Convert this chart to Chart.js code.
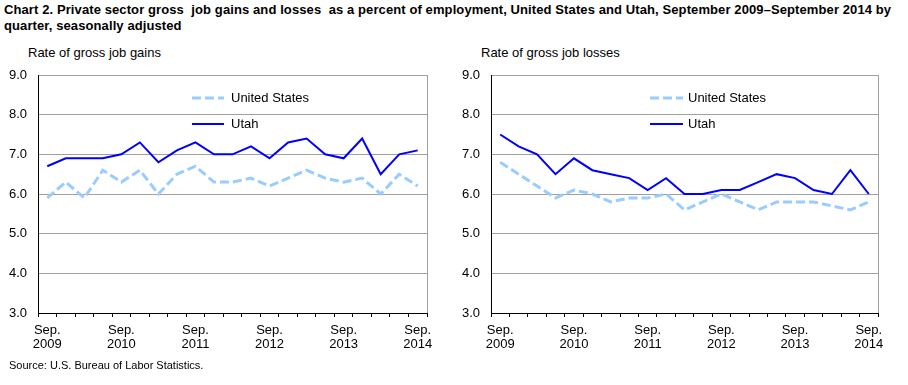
<!DOCTYPE html>
<html>
<head>
<meta charset="utf-8">
<script src="https://cdn.jsdelivr.net/npm/chart.js@4.4.1/dist/chart.umd.min.js"></script>
<style>
    body { margin: 0; background: #fff; font-family: Arial, "Liberation Sans", sans-serif; color: #000; }
    #title { position: absolute; left: 4px; top: 2px; font-size: 13px; font-weight: bold; line-height: 16px; letter-spacing: 0.1px; white-space: pre; }
    .axis-title { position: absolute; top: 45px; font-size: 13px; }
    .panel { position: absolute; top: 40px; width: 454px; height: 320px; }
    #source { position: absolute; left: 9px; top: 359px; font-size: 11px; }
</style>
</head>
<body>
<div id="title">Chart 2. Private sector gross  job gains and losses  as a percent of employment, United States and Utah, September 2009–September 2014 by
quarter, seasonally adjusted</div>
<div class="axis-title" style="left:28px">Rate of gross job gains</div>
<div class="axis-title" style="left:481px">Rate of gross job losses</div>
<div class="panel" style="left:0"><canvas id="gainsChart" width="454" height="320"></canvas></div>
<div class="panel" style="left:454px"><canvas id="lossesChart" width="454" height="320"></canvas></div>
<div id="source">Source: U.S. Bureau of Labor Statistics.</div>

<script>
// Quarters, September 2009 to September 2014
const quarters = [
    'Sep. 2009', 'Dec. 2009', 'Mar. 2010', 'Jun. 2010',
    'Sep. 2010', 'Dec. 2010', 'Mar. 2011', 'Jun. 2011',
    'Sep. 2011', 'Dec. 2011', 'Mar. 2012', 'Jun. 2012',
    'Sep. 2012', 'Dec. 2012', 'Mar. 2013', 'Jun. 2013',
    'Sep. 2013', 'Dec. 2013', 'Mar. 2014', 'Jun. 2014',
    'Sep. 2014'
];
const seriesNames = ['United States', 'Utah'];

// Gross job gains, percent of employment
const gainsUS   = [5.9, 6.3, 5.9, 6.6, 6.3, 6.6, 6.0, 6.5, 6.7, 6.3, 6.3, 6.4, 6.2, 6.4, 6.6, 6.4, 6.3, 6.4, 6.0, 6.5, 6.2];
const gainsUtah = [6.7, 6.9, 6.9, 6.9, 7.0, 7.3, 6.8, 7.1, 7.3, 7.0, 7.0, 7.2, 6.9, 7.3, 7.4, 7.0, 6.9, 7.4, 6.5, 7.0, 7.1];

// Gross job losses, percent of employment
const lossesUS   = [6.8, 6.5, 6.2, 5.9, 6.1, 6.0, 5.8, 5.9, 5.9, 6.0, 5.6, 5.8, 6.0, 5.8, 5.6, 5.8, 5.8, 5.8, 5.7, 5.6, 5.8];
const lossesUtah = [7.5, 7.2, 7.0, 6.5, 6.9, 6.6, 6.5, 6.4, 6.1, 6.4, 6.0, 6.0, 6.1, 6.1, 6.3, 6.5, 6.4, 6.1, 6.0, 6.6, 6.0];

const yTicks = [3, 4, 5, 6, 7, 8, 9];

const RateCharts = {
    font: { family: 'Arial, "Liberation Sans", sans-serif', size: 13 },

    /**
     * Draws the legend inside the plot area and the grey right border
     */
    panelPlugin: {
        id: 'panelDecor',
        afterDraw(chart, args, opts) {
            const ctx = chart.ctx;
            const area = chart.chartArea;

            // Right border of plot area
            ctx.save();
            ctx.strokeStyle = '#a0a0a0';
            ctx.lineWidth = 1;
            ctx.beginPath();
            ctx.moveTo(Math.round(area.right) + 0.5, area.top);
            ctx.lineTo(Math.round(area.right) + 0.5, area.bottom);
            ctx.stroke();

            // Legend rows
            ctx.font = '13px Arial, "Liberation Sans", sans-serif';
            ctx.textBaseline = 'middle';
            ctx.fillStyle = '#000';
            chart.data.datasets.forEach((ds, i) => {
                const y = area.top + opts.top + i * opts.rowGap;
                const x0 = area.left + opts.left;
                ctx.strokeStyle = ds.borderColor;
                ctx.lineWidth = ds.borderWidth;
                ctx.setLineDash(ds.borderDash || []);
                ctx.beginPath();
                ctx.moveTo(x0, y);
                ctx.lineTo(x0 + opts.lineLength, y);
                ctx.stroke();
                ctx.setLineDash([]);
                ctx.fillText(ds.label, x0 + opts.lineLength + opts.textGap, y);
            });
            ctx.restore();
        }
    },

    /**
     * Creates one panel
     * @param {string} canvasId canvas element id
     * @param {number[]} usData United States series
     * @param {number[]} utahData Utah series
     * @param {Object} box sizes of the panel
     */
    createPanel(canvasId, usData, utahData, box) {
        const canvas = document.getElementById(canvasId);
        return new Chart(canvas, {
            type: 'line',
            data: {
                labels: quarters,
                datasets: [{
                    label: seriesNames[0],
                    data: usData,
                    borderColor: '#99ccff',
                    borderWidth: 3,
                    borderDash: [9, 4],
                    pointRadius: 0,
                    tension: 0,
                    fill: false
                }, {
                    label: seriesNames[1],
                    data: utahData,
                    borderColor: '#0000ff',
                    borderWidth: 2,
                    pointRadius: 0,
                    tension: 0,
                    fill: false
                }]
            },
            options: {
                responsive: false,
                animation: false,
                layout: { padding: { top: 35, right: box.right, bottom: 0, left: 0 } },
                plugins: {
                    legend: { display: false },
                    tooltip: { enabled: false },
                    panelDecor: box.legend
                },
                scales: {
                    x: {
                        offset: true,
                        afterFit: (scale) => { scale.height = 47; },
                        border: { color: '#000', width: 1 },
                        grid: {
                            offset: true,
                            drawOnChartArea: false,
                            drawTicks: true,
                            tickLength: 4,
                            tickColor: '#000'
                        },
                        ticks: {
                            autoSkip: false,
                            maxRotation: 0,
                            padding: 6,
                            color: '#000',
                            font: { ...this.font, lineHeight: '14px' },
                            callback: (value, index) => {
                                const label = quarters[index];
                                return label.startsWith('Sep.') ? label.split(' ') : '';
                            }
                        }
                    },
                    y: {
                        min: yTicks[0],
                        max: yTicks[yTicks.length - 1],
                        afterFit: (scale) => { scale.width = box.yWidth; },
                        afterBuildTicks: (scale) => { scale.ticks = yTicks.map(v => ({ value: v })); },
                        border: { color: '#000', width: 1 },
                        grid: { color: '#a0a0a0', drawTicks: false },
                        ticks: {
                            padding: 11,
                            color: '#000',
                            font: this.font,
                            callback: (value) => value.toFixed(1)
                        }
                    }
                }
            },
            plugins: [this.panelPlugin]
        });
    }
};

RateCharts.createPanel('gainsChart', gainsUS, gainsUtah, {
    right: 27,
    yWidth: 38,
    legend: { left: 154, top: 23, rowGap: 26, lineLength: 32, textGap: 7 }
});
RateCharts.createPanel('lossesChart', lossesUS, lossesUtah, {
    right: 30,
    yWidth: 37,
    legend: { left: 159, top: 23, rowGap: 26, lineLength: 33, textGap: 5 }
});
</script>
</body>
</html>
